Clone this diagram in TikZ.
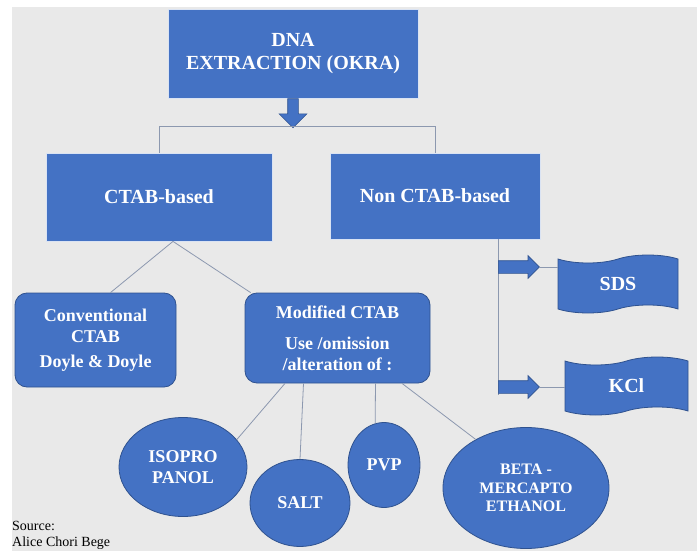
\documentclass[tikz,border=0pt]{standalone}
\usepackage{fontspec}
\setmainfont{Liberation Serif}[BoldFont={Liberation Serif Bold}]
\usetikzlibrary{shapes.arrows,shapes.geometric,shapes.symbols}
\definecolor{boxblue}{RGB}{68,114,196}
\definecolor{edgeblue}{RGB}{47,82,143}
\definecolor{linkgray}{RGB}{140,152,175}
\definecolor{paper}{RGB}{233,233,233}

\begin{document}
\begin{tikzpicture}[x=1pt,y=-1pt,
    box/.style={rectangle,fill=boxblue,draw=white!80!boxblue,line width=0.8pt,text=white,
      align=center,inner sep=0pt,font=\bfseries\fontsize{20}{23}\selectfont},
    rbox/.style={box,rounded corners=12pt,draw=edgeblue,font=\bfseries\fontsize{18}{21}\selectfont},
    blob/.style={ellipse,fill=boxblue,draw=edgeblue,line width=0.8pt,text=white,
      align=center,inner sep=0pt,font=\bfseries\fontsize{18}{21}\selectfont},
    flag/.style={tape,tape bend height=8pt,fill=boxblue,draw=edgeblue,line width=0.8pt,
      text=white,inner sep=0pt,font=\bfseries\fontsize{20}{23}\selectfont},
    barrow/.style={single arrow,fill=boxblue,draw=edgeblue,line width=0.7pt,inner sep=0pt,
      anchor=tail,single arrow head extend=5pt},
    link/.style={draw=linkgray,line width=0.8pt}
  ]
  \useasboundingbox (0,0) rectangle (697,551);
  \fill[white] (0,0) rectangle (697,551);
  \fill[paper] (12,7) rectangle (697,551);

  \node[box,minimum width=250pt,minimum height=89pt] (dna) at (293,53.5) {DNA\\EXTRACTION (OKRA)};
  \node[box,minimum width=226pt,minimum height=88pt] (ctab) at (159,197) {CTAB-based};
  \node[box,minimum width=210pt,minimum height=86pt] (nonctab) at (435,196) {Non CTAB-based};
  \node[rbox,minimum width=161pt,minimum height=94pt] (conv) at (95.5,340) {Conventional\\CTAB\\[4pt]Doyle \& Doyle};
  \node[rbox,minimum width=185pt,minimum height=90pt] (modif) at (337.5,338) {Modified CTAB\\[10pt]Use /omission\\/alteration of :};

  \node[flag,minimum width=120pt,minimum height=58pt] (sds) at (618,284) {SDS};
  \node[flag,minimum width=123pt,minimum height=58pt] (kcl) at (626.5,386) {KCl};

  \foreach \n/\x/\y/\w/\h/\t in {iso/183/467/128/99/{ISOPRO\\PANOL},
      salt/300/503/100/87/SALT, pvp/384/465/72/85/PVP}
    \node[blob,minimum width=\w pt,minimum height=\h pt] (\n) at (\x,\y) {\t};
  \node[blob,minimum width=166pt,minimum height=121pt,font=\bfseries\fontsize{16}{18.5}\selectfont]
    (beta) at (526,488) {BETA -\\MERCAPTO\\ETHANOL};

  \node[anchor=north west,align=left,inner sep=0pt,font=\fontsize{14}{16}\selectfont]
    (src) at (12,521) {Source:\\Alice Chori Bege};

  \node[barrow,rotate=-90,single arrow head extend=8.5pt,minimum height=29pt]
    (down) at (dna.south) {\rule{0pt}{10pt}};

  \draw[link] (ctab.north) -- ++(0,-26) -| (nonctab.north);
  \coordinate (fork) at ([xshift=14pt]ctab.south);
  \draw[link] (fork) -- ([xshift=15pt]conv.north);
  \draw[link] (fork) -- ([xshift=6pt]modif.north west);
  \foreach \dx/\target in {-52.5/iso.27, -34/salt.north, 38/pvp.102, 64.5/beta.136}
    \draw[link] ([xshift=\dx pt]modif.south) -- (\target);

  \coordinate (nend) at (498,395);
  \draw[link] (nonctab.south -| nend) -- (nend);
  \node[barrow,minimum height=41pt] (tosds) at (498,267) {\rule{0pt}{12pt}};
  \node[barrow,minimum height=41pt] (tokcl) at (498,387) {\rule{0pt}{12pt}};
  \draw[link] (tosds.tip) -- (tosds.tip -| sds.west);
  \draw[link] (tokcl.tip) -- (tokcl.tip -| kcl.west);
\end{tikzpicture}
\end{document}
